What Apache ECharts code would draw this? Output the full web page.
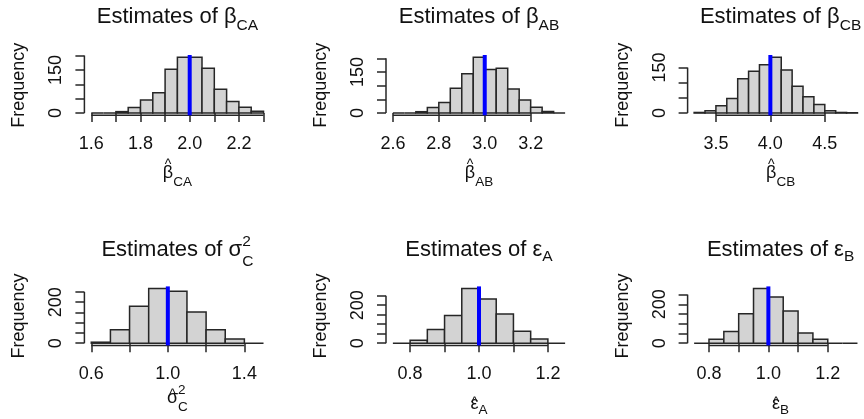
<!DOCTYPE html>
<html>
<head>
<meta charset="utf-8">
<script src="https://cdn.jsdelivr.net/npm/echarts@6/dist/echarts.min.js"></script>
<style>
  html, body { margin: 0; padding: 0; background: #fff; }
  #main { width: 864px; height: 419px; }
</style>
</head>
<body>
<div id="main"></div>
<script>
// bin edges and counts
var breaksCA = [1.60, 1.65, 1.70, 1.75, 1.80, 1.85, 1.90, 1.95, 2.00, 2.05, 2.10, 2.15, 2.20, 2.25, 2.30];
var countsCA = [0, 0, 5, 19, 45, 71, 152, 194, 194, 156, 83, 40, 20, 6];

var breaksAB = [2.60, 2.65, 2.70, 2.75, 2.80, 2.85, 2.90, 2.95, 3.00, 3.05, 3.10, 3.15, 3.20, 3.25, 3.30, 3.35];
var countsAB = [0, 0, 5, 20, 39, 91, 144, 204, 159, 164, 88, 48, 21, 6, 0];

var breaksCB = [3.3, 3.4, 3.5, 3.6, 3.7, 3.8, 3.9, 4.0, 4.1, 4.2, 4.3, 4.4, 4.5, 4.6, 4.7, 4.8];
var countsCB = [2, 8, 24, 48, 113, 138, 159, 184, 142, 88, 54, 28, 8, 2, 1];

var breaksSig = [0.6, 0.7, 0.8, 0.9, 1.0, 1.1, 1.2, 1.3, 1.4, 1.5];
var countsSig = [5, 65, 180, 266, 253, 152, 65, 21, 0];

var breaksEpsA = [0.75, 0.80, 0.85, 0.90, 0.95, 1.00, 1.05, 1.10, 1.15, 1.20, 1.25];
var countsEpsA = [0, 15, 72, 145, 287, 232, 153, 63, 22, 0];

var breaksEpsB = [0.75, 0.80, 0.85, 0.90, 0.95, 1.00, 1.05, 1.10, 1.15, 1.20, 1.25, 1.30];
var countsEpsB = [0, 21, 60, 152, 281, 238, 166, 52, 21, 0, 0];

// true parameter values (blue lines)
var trueValues = [2.0, 3.0, 4.0, 1.0, 1.0, 1.0];

// axis ticks and the labels R kept
var xTicksCA = [1.6, 1.7, 1.8, 1.9, 2.0, 2.1, 2.2, 2.3];
var xLabelsCA = [1.6, 1.8, 2.0, 2.2];
var xTicksAB = [2.6, 2.8, 3.0, 3.2];
var xTicksCB = [3.5, 4.0, 4.5];
var xTicksSig = [0.6, 0.8, 1.0, 1.2, 1.4];
var xLabelsSig = [0.6, 1.0, 1.4];
var xTicksEps = [0.8, 0.9, 1.0, 1.1, 1.2];
var xLabelsEps = [0.8, 1.0, 1.2];

var yTicks200 = [0, 50, 100, 150, 200];
var yTicks150 = [0, 50, 100, 150];
var yTicks250 = [0, 50, 100, 150, 200, 250];
var yLabelsTop = [0, 150];
var yLabelsBottom = [0, 200];

var FONT = '"Liberation Sans", Arial, sans-serif';
var INK = '#111';
var LINE = '#262626';

var panels = [
  { breaks: breaksCA, counts: countsCA, xTicks: xTicksCA, xLabels: xLabelsCA, yTicks: yTicks200, yLabels: yLabelsTop,
    left: 84.4, top: 55, width: 186, height: 60.3,
    title: { base: 'Estimates of β', sub: 'CA', subDy: 5.7, baseline: 25 },
    xname: { base: 'β', sub: 'CA', subDy: 8.4, baseline: 178.9, hat: 169.9 } },
  { breaks: breaksAB, counts: countsAB, xTicks: xTicksAB, xLabels: xTicksAB, yTicks: yTicks200, yLabels: yLabelsTop,
    left: 386, top: 55, width: 186, height: 60.3,
    title: { base: 'Estimates of β', sub: 'AB', subDy: 5.7, baseline: 25 },
    xname: { base: 'β', sub: 'AB', subDy: 8.4, baseline: 178.9, hat: 169.9 } },
  { breaks: breaksCB, counts: countsCB, xTicks: xTicksCB, xLabels: xTicksCB, yTicks: yTicks150, yLabels: yLabelsTop,
    left: 687.6, top: 55, width: 186, height: 60.3,
    title: { base: 'Estimates of β', sub: 'CB', subDy: 5.7, baseline: 25 },
    xname: { base: 'β', sub: 'CB', subDy: 8.4, baseline: 178.9, hat: 169.9 } },
  { breaks: breaksSig, counts: countsSig, xTicks: xTicksSig, xLabels: xLabelsSig, yTicks: yTicks250, yLabels: yLabelsBottom,
    left: 84.4, top: 286.4, width: 186, height: 59,
    title: { base: 'Estimates of σ', sub: 'C', sup: '2', subDy: 9.6, supDy: -10.4, baseline: 257.7 },
    xname: { base: 'σ', sub: 'C', sup: '2', subDy: 7.7, supDy: -9, baseline: 404, hat: 399.9 } },
  { breaks: breaksEpsA, counts: countsEpsA, xTicks: xTicksEps, xLabels: xLabelsEps, yTicks: yTicks250, yLabels: yLabelsBottom,
    left: 386, top: 286.4, width: 186, height: 59,
    title: { base: 'Estimates of ε', sub: 'A', subDy: 4, baseline: 257.7 },
    xname: { base: 'ε', sub: 'A', subDy: 5, baseline: 410, hat: 407.9 } },
  { breaks: breaksEpsB, counts: countsEpsB, xTicks: xTicksEps, xLabels: xLabelsEps, yTicks: yTicks250, yLabels: yLabelsBottom,
    left: 687.6, top: 286.4, width: 186, height: 59,
    title: { base: 'Estimates of ε', sub: 'B', subDy: 4, baseline: 257.7 },
    xname: { base: 'ε', sub: 'B', subDy: 5, baseline: 410, hat: 407.9 } }
];

var measureCtx = document.createElement('canvas').getContext('2d');
function textWidth(s, size) {
  measureCtx.font = size + 'px ' + FONT;
  return measureCtx.measureText(s).width;
}
function textEl(s, x, baseline, size, align) {
  return {
    type: 'text', silent: true,
    style: {
      text: s, x: x, y: baseline - 0.3465 * size,
      fontSize: size, fontFamily: FONT, fill: INK,
      align: align || 'left', verticalAlign: 'middle'
    }
  };
}
// base text with a subscript (and maybe a superscript stacked over it), centred on cx
function mathLabel(spec, cx, size, scriptSize) {
  var w0 = textWidth(spec.base, size);
  var ws = spec.sub ? textWidth(spec.sub, scriptSize) : 0;
  var wp = spec.sup ? textWidth(spec.sup, scriptSize) : 0;
  var x0 = cx - (w0 + Math.max(ws, wp)) / 2;
  var els = [textEl(spec.base, x0, spec.baseline, size)];
  if (spec.sub) els.push(textEl(spec.sub, x0 + w0, spec.baseline + spec.subDy, scriptSize));
  if (spec.sup) els.push(textEl(spec.sup, x0 + w0, spec.baseline + spec.supDy, scriptSize));
  if (spec.hat) {
    var last = spec.base.charAt(spec.base.length - 1);
    els.push(textEl('^', x0 + w0 - textWidth(last, size) / 2, spec.hat, 14, 'center'));
  }
  return els;
}

function renderBin(params, api) {
  var a = api.coord([api.value(0), api.value(2)]);
  var b = api.coord([api.value(1), 0]);
  return {
    type: 'rect',
    shape: { x: a[0], y: a[1], width: b[0] - a[0], height: b[1] - a[1] },
    style: { fill: '#d3d3d3', stroke: LINE, lineWidth: 1.5 }
  };
}
function renderTruth(params, api) {
  var cs = params.coordSys;
  var x = api.coord([api.value(0), 0])[0];
  return { type: 'line', shape: { x1: x, y1: cs.y, x2: x, y2: cs.y + cs.height },
    style: { stroke: '#0000ff', lineWidth: 4 } };
}
function renderXAxisLine(params, api) {
  var cs = params.coordSys;
  var a = api.coord([api.value(0), 0]);
  var b = api.coord([api.value(1), 0]);
  var y = cs.y + cs.height;
  return { type: 'line', shape: { x1: a[0], y1: y, x2: b[0], y2: y },
    style: { stroke: LINE, lineWidth: 1.5 } };
}
function renderYAxisLine(params, api) {
  var cs = params.coordSys;
  var a = api.coord([0, api.value(0)]);
  var b = api.coord([0, api.value(1)]);
  return { type: 'line', shape: { x1: cs.x, y1: a[1], x2: cs.x, y2: b[1] },
    style: { stroke: LINE, lineWidth: 1.5 } };
}

var grids = [], xAxes = [], yAxes = [], series = [], graphics = [];
panels.forEach(function (p, i) {
  var lo = p.breaks[0], hi = p.breaks[p.breaks.length - 1];
  var top = Math.max.apply(null, p.counts);
  grids.push({ left: p.left, top: p.top, width: p.width, height: p.height });
  xAxes.push({
    type: 'value', gridIndex: i,
    min: lo - 0.04 * (hi - lo), max: hi + 0.04 * (hi - lo),
    axisLine: { show: false }, splitLine: { show: false },
    axisTick: { show: true, customValues: p.xTicks, length: 9, lineStyle: { color: LINE, width: 1.5 } },
    axisLabel: { customValues: p.xLabels, margin: 19.5, fontSize: 18, fontFamily: FONT, color: INK,
      formatter: function (v) { return v.toFixed(1); } }
  });
  yAxes.push({
    type: 'value', gridIndex: i,
    min: -0.04 * top, max: 1.04 * top,
    name: 'Frequency', nameLocation: 'middle', nameGap: 56,
    nameTextStyle: { fontSize: 18, fontFamily: FONT, color: INK },
    axisLine: { show: false }, splitLine: { show: false },
    axisTick: { show: true, customValues: p.yTicks, length: 9, lineStyle: { color: LINE, width: 1.5 } },
    axisLabel: { customValues: p.yLabels, rotate: 90, margin: 19, fontSize: 18, fontFamily: FONT, color: INK,
      formatter: function (v) { return String(v); } }
  });
  series.push({
    type: 'custom', xAxisIndex: i, yAxisIndex: i, silent: true,
    renderItem: renderBin, encode: { x: [0, 1], y: 2 },
    data: p.counts.map(function (c, k) { return [p.breaks[k], p.breaks[k + 1], c]; })
  });
  series.push({
    type: 'custom', xAxisIndex: i, yAxisIndex: i, silent: true,
    renderItem: renderXAxisLine,
    data: [[p.xTicks[0], p.xTicks[p.xTicks.length - 1]]]
  });
  series.push({
    type: 'custom', xAxisIndex: i, yAxisIndex: i, silent: true,
    renderItem: renderYAxisLine,
    data: [[p.yTicks[0], p.yTicks[p.yTicks.length - 1]]]
  });
  series.push({
    type: 'custom', xAxisIndex: i, yAxisIndex: i, silent: true,
    renderItem: renderTruth, data: [[trueValues[i]]]
  });
  var cx = p.left + p.width / 2;
  graphics = graphics.concat(mathLabel(p.title, cx, 22, 15.5));
  graphics = graphics.concat(mathLabel(p.xname, cx, 18, 13.5));
});

var chart = echarts.init(document.getElementById('main'), null, { renderer: 'canvas' });
chart.setOption({
  animation: false,
  backgroundColor: '#fff',
  grid: grids,
  xAxis: xAxes,
  yAxis: yAxes,
  series: series,
  graphic: graphics
});
window.addEventListener('resize', function () { chart.resize(); });
</script>
</body>
</html>
